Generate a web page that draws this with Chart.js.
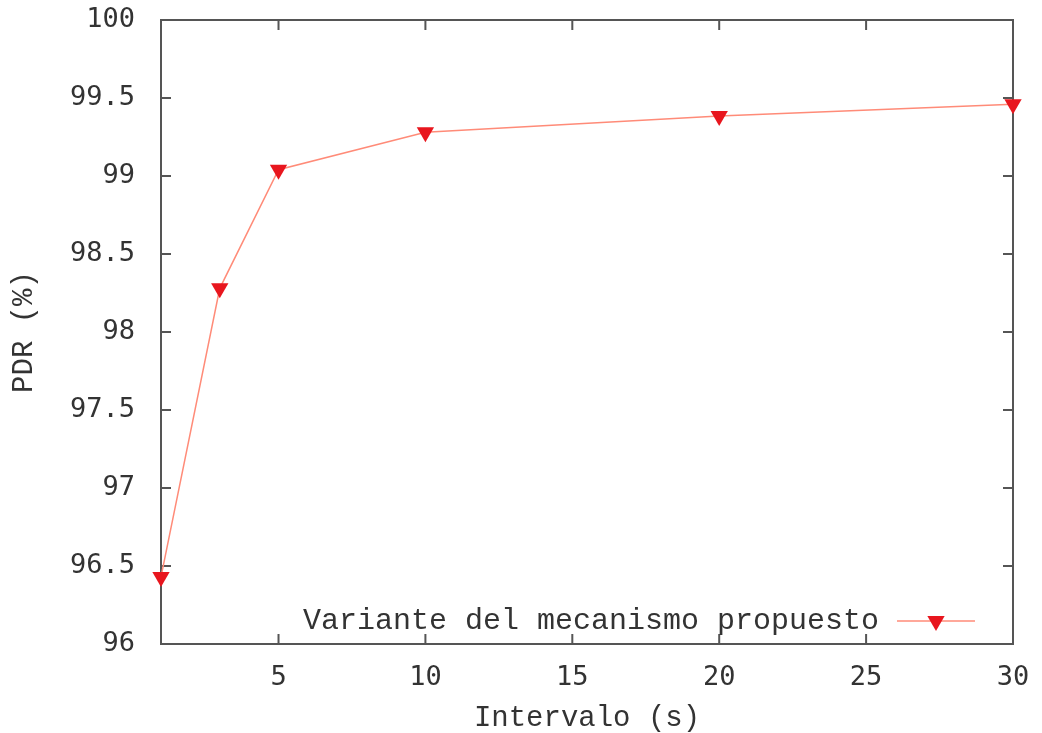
<!DOCTYPE html>
<html>
<head>
<meta charset="utf-8">
<script src="https://cdn.jsdelivr.net/npm/chart.js@4/dist/chart.umd.min.js"></script>
<style>
  html, body { margin: 0; padding: 0; background: #ffffff; }
  canvas { display: block; }
</style>
</head>
<body>
<canvas id="grafico" width="1042" height="733"></canvas>
<script>
// Datos
const intervalos = [1, 3, 5, 10, 20, 30];
const pdr = [96.43, 98.28, 99.04, 99.28, 99.385, 99.46];
const ticksX = [5, 10, 15, 20, 25, 30];
const ticksY = [96, 96.5, 97, 97.5, 98, 98.5, 99, 99.5, 100];
const etiquetaSerie = 'Variante del mecanismo propuesto';

const colorMarco = '#555555';
const colorTexto = '#333333';
const fuenteTicks = { family: 'DejaVu Sans Mono', size: 27 };
const fuenteTitulos = { family: 'Liberation Mono', size: 29, lineHeight: 1 };

// Marco de gnuplot con marcas hacia dentro en los cuatro lados
const marcoPlugin = {
  id: 'marco',
  beforeDatasetsDraw(chart) {
    const { ctx, chartArea: a, scales } = chart;
    const largo = 10;
    ctx.save();
    ctx.strokeStyle = colorMarco;
    ctx.lineWidth = 2;
    ctx.strokeRect(a.left, a.top, a.right - a.left, a.bottom - a.top);
    ctx.beginPath();
    ticksX.forEach(v => {
      const x = scales.x.getPixelForValue(v);
      ctx.moveTo(x, a.bottom); ctx.lineTo(x, a.bottom - largo);
      ctx.moveTo(x, a.top); ctx.lineTo(x, a.top + largo);
    });
    ticksY.forEach(v => {
      const y = scales.y.getPixelForValue(v);
      ctx.moveTo(a.left, y); ctx.lineTo(a.left + largo, y);
      ctx.moveTo(a.right, y); ctx.lineTo(a.right - largo, y);
    });
    ctx.stroke();
    ctx.restore();
  }
};

// Leyenda dentro del área, abajo a la derecha (texto y luego muestra)
const leyendaPlugin = {
  id: 'leyendaInterna',
  afterDraw(chart) {
    const { ctx, chartArea: a } = chart;
    const ds = chart.data.datasets[0];
    const y = a.bottom - 23;
    const xFinMuestra = a.right - 38;
    const xIniMuestra = xFinMuestra - 78;
    ctx.save();
    ctx.font = '30px "' + fuenteTitulos.family + '"';
    ctx.fillStyle = colorTexto;
    ctx.textAlign = 'right';
    ctx.textBaseline = 'middle';
    ctx.fillText(ds.label, xIniMuestra - 18, y);
    ctx.strokeStyle = ds.borderColor;
    ctx.lineWidth = ds.borderWidth;
    ctx.beginPath();
    ctx.moveTo(xIniMuestra, y);
    ctx.lineTo(xFinMuestra, y);
    ctx.stroke();
    ctx.fillStyle = ds.pointBackgroundColor;
    ctx.strokeStyle = ds.pointBackgroundColor;
    Chart.helpers.drawPoint(ctx, {
      pointStyle: 'triangle',
      rotation: 180,
      radius: ds.pointRadius,
      borderWidth: 0
    }, (xIniMuestra + xFinMuestra) / 2, y);
    ctx.restore();
  }
};

const ctx = document.getElementById('grafico').getContext('2d');
new Chart(ctx, {
  type: 'line',
  data: {
    datasets: [{
      label: etiquetaSerie,
      data: intervalos.map((x, i) => ({ x: x, y: pdr[i] })),
      borderColor: '#ff8b78',
      borderWidth: 1.5,
      pointStyle: 'triangle',
      rotation: 180,
      pointRadius: 10,
      pointBackgroundColor: '#e8161e',
      pointBorderColor: '#e8161e',
      pointBorderWidth: 0,
      tension: 0,
      clip: false
    }]
  },
  options: {
    responsive: false,
    animation: false,
    devicePixelRatio: 1,
    layout: { padding: { left: 8, right: 29, top: 20, bottom: 0 } },
    plugins: {
      legend: { display: false },
      tooltip: { enabled: false }
    },
    scales: {
      x: {
        type: 'linear',
        min: 1,
        max: 30,
        afterBuildTicks: s => { s.ticks = ticksX.map(v => ({ value: v })); },
        afterFit: s => { s.height = 733 - 644; s.paddingLeft = 0; s.paddingRight = 0; },
        grid: { display: false },
        border: { display: false },
        ticks: { font: fuenteTicks, color: colorTexto, padding: 10, maxRotation: 0 },
        title: { display: true, text: 'Intervalo (s)', font: fuenteTitulos, color: colorTexto, padding: { top: 0, bottom: 0 } }
      },
      y: {
        min: 96,
        max: 100,
        afterBuildTicks: s => { s.ticks = ticksY.map(v => ({ value: v })); },
        afterFit: s => { s.width = 161 - 8; s.paddingTop = 0; s.paddingBottom = 0; },
        grid: { display: false },
        border: { display: false },
        ticks: { font: fuenteTicks, color: colorTexto, padding: 18, callback: v => String(v) },
        title: { display: true, text: 'PDR (%)', font: fuenteTitulos, color: colorTexto, padding: { top: 2, bottom: 0 } }
      }
    }
  },
  plugins: [marcoPlugin, leyendaPlugin]
});
</script>
</body>
</html>
